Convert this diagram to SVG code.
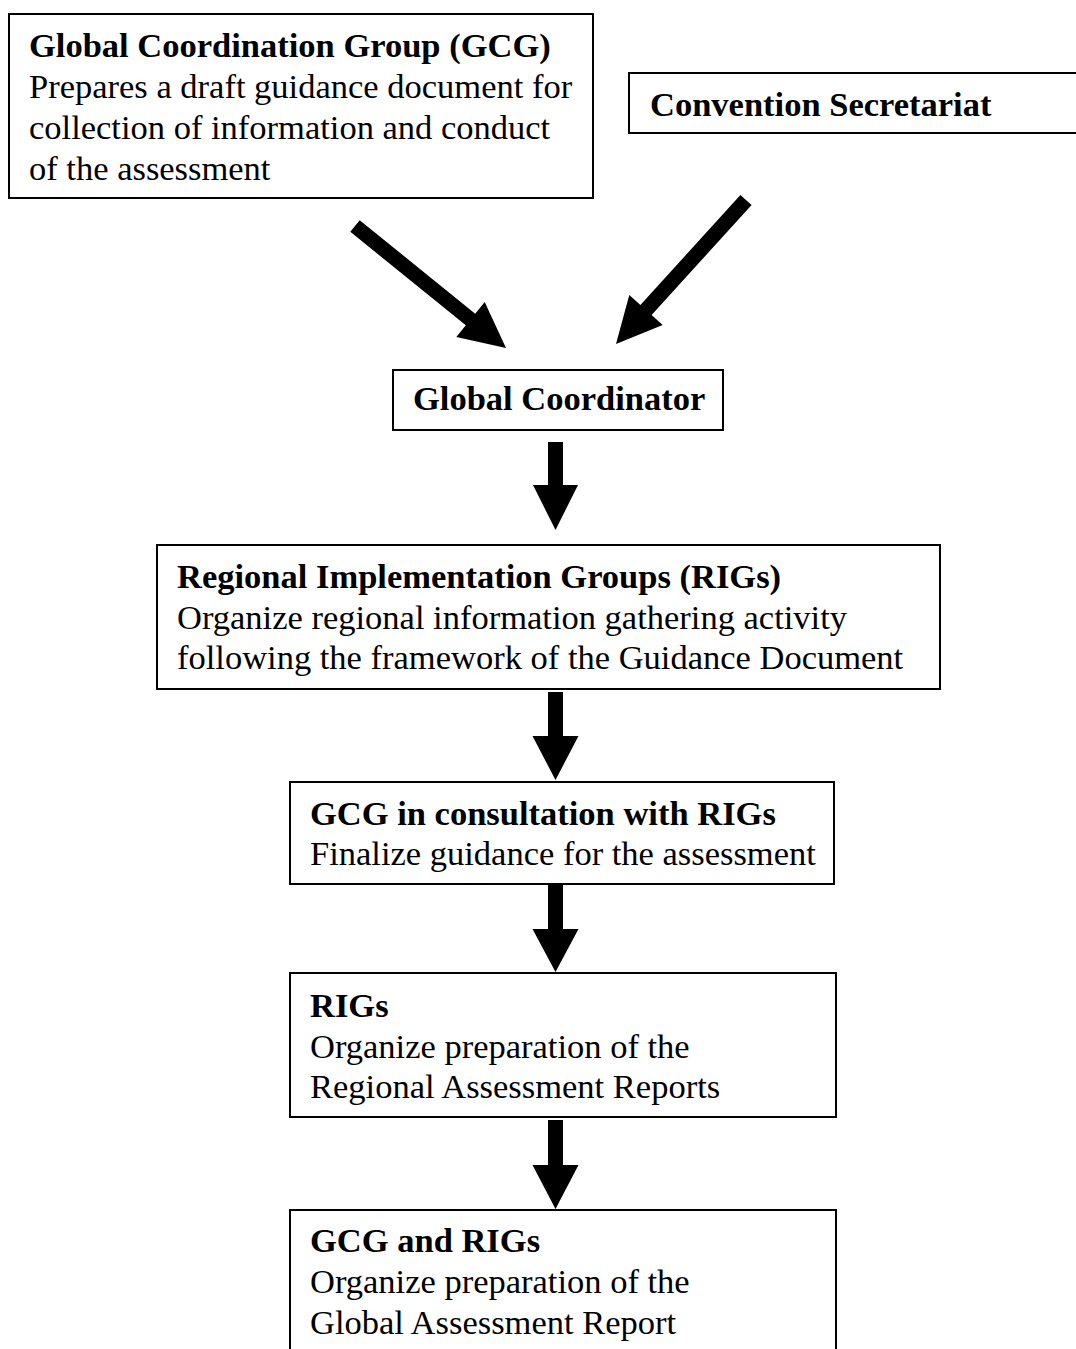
<svg xmlns="http://www.w3.org/2000/svg" width="1076" height="1349" viewBox="0 0 1076 1349">
<style>
.box{fill:#fff;stroke:#000;stroke-width:2}
text{font-family:"Liberation Serif","Times New Roman",serif;font-size:34.5px;fill:#000}
.b{font-weight:bold}
.arr{fill:#000}
</style>
<rect width="1076" height="1349" fill="#fff"/>
<g id="gcg">
<rect class="box" x="9" y="14" width="584" height="184"/>
<text class="b" x="29" y="57">Global Coordination Group (GCG)</text>
<text x="29" y="98">Prepares a draft guidance document for</text>
<text x="29" y="139">collection of information and conduct</text>
<text x="29" y="180">of the assessment</text>
</g>
<g id="secretariat">
<rect class="box" x="629" y="73" width="460" height="60"/>
<text class="b" x="650" y="116">Convention Secretariat</text>
</g>
<g id="coordinator">
<rect class="box" x="393" y="370" width="330" height="60"/>
<text class="b" x="413" y="410">Global Coordinator</text>
</g>
<g id="rigs1">
<rect class="box" x="157" y="545" width="783" height="144"/>
<text class="b" x="177" y="588">Regional Implementation Groups (RIGs)</text>
<text x="177" y="629">Organize regional information gathering activity</text>
<text x="177" y="669">following the framework of the Guidance Document</text>
</g>
<g id="consult">
<rect class="box" x="290" y="782" width="544" height="102"/>
<text class="b" x="310" y="825">GCG in consultation with RIGs</text>
<text x="310" y="865">Finalize guidance for the assessment</text>
</g>
<g id="rigs2">
<rect class="box" x="290" y="973" width="546" height="144"/>
<text class="b" x="310" y="1017">RIGs</text>
<text x="310" y="1058">Organize preparation of the</text>
<text x="310" y="1098">Regional Assessment Reports</text>
</g>
<g id="gcgrigs">
<rect class="box" x="290" y="1210" width="546" height="160"/>
<text class="b" x="310" y="1252">GCG and RIGs</text>
<text x="310" y="1293">Organize preparation of the</text>
<text x="310" y="1334">Global Assessment Report</text>
</g>
<g id="connectors">
<polygon class="arr" points="359.7,220.2 475.2,313.7 484.7,302 506,348 456.3,337 465.8,325.3 350.3,231.8"/>
<polygon class="arr" points="740.4,195 751.6,205 651.6,315 662.7,325.1 616,344 629.3,294.9 640.4,305"/>
<polygon class="arr" points="548,442 563,442 563,485 578,485 555.5,530 533,485 548,485"/>
<polygon class="arr" points="548,692 563,692 563,736 578.5,736 555.5,780 532.5,736 548,736"/>
<polygon class="arr" points="548,885 563,885 563,929 578.5,929 555.5,972 532.5,929 548,929"/>
<polygon class="arr" points="548,1120 563,1120 563,1165 578.5,1165 555.5,1209 532.5,1165 548,1165"/>
</g>
</svg>
